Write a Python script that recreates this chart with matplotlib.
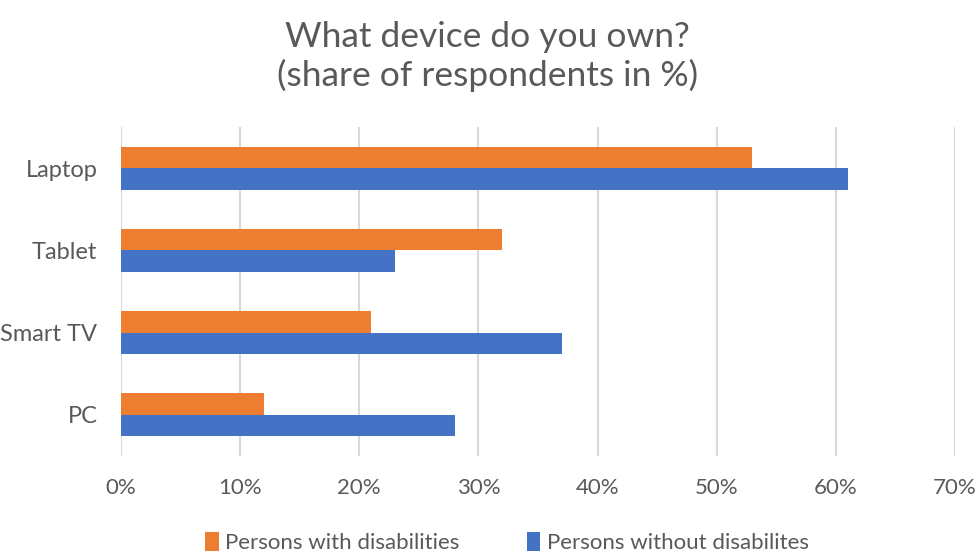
import matplotlib
matplotlib.use("Agg")
import matplotlib.pyplot as plt
import numpy as np
from matplotlib.ticker import FuncFormatter

categories = ["Laptop", "Tablet", "Smart TV", "PC"]
with_disab = [53, 32, 21, 12]
without_disab = [61, 23, 37, 28]
series_names = ["Persons with disabilities", "Persons without disabilites"]
xticks = [0, 10, 20, 30, 40, 50, 60, 70]

plt.rcParams['font.family'] = ['Lato', 'DejaVu Sans']

fig = plt.figure(figsize=(9.75, 5.56), dpi=100)
ax = fig.add_axes([0.1241, 0.1799, 0.9795 - 0.1241, 0.7716 - 0.1799])

y = np.arange(len(categories))
h = 0.262
ax.barh(y - h / 2, with_disab, height=h, color="#ED7D31", label=series_names[0], zorder=3)
ax.barh(y + h / 2, without_disab, height=h, color="#4472C4", label=series_names[1], zorder=3)

ax.set_ylim(len(categories) - 0.5, -0.5)
ax.set_xlim(0, 70)
ax.set_xticks(xticks)
ax.xaxis.set_major_formatter(FuncFormatter(lambda v, p: f"{int(v)}%"))
ax.set_yticks(y)
ax.set_yticklabels(categories)
ax.grid(axis="x", color="#D9D9D9", linewidth=1.5, zorder=0)
for s in ax.spines.values():
    s.set_visible(False)
ax.tick_params(axis="both", length=0, colors="#595959")
ax.tick_params(axis="x", pad=16, labelsize=16)
ax.tick_params(axis="y", pad=17, labelsize=17)

fig.text(0.5, 0.962, "What device do you own?\n(share of respondents in %)", ha="center", va="top",
         fontsize=25.5, color="#595959", linespacing=1.2)

handles, labels = ax.get_legend_handles_labels()
fig.legend(handles, labels, loc="center", bbox_to_anchor=(0.52, 0.024), ncol=2, frameon=False,
           fontsize=16, labelcolor="#595959", handlelength=0.6, handleheight=0.9,
           handletextpad=0.3, columnspacing=3.0)

fig.savefig("out.png", dpi=100)
